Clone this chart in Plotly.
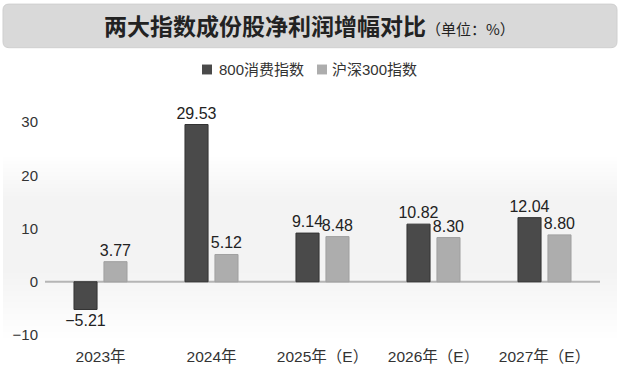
import plotly.graph_objects as go

categories = ["2023年", "2024年", "2025年（E）", "2026年（E）", "2027年（E）"]
series_names = ["800消费指数", "沪深300指数"]
consumer800 = [-5.21, 29.53, 9.14, 10.82, 12.04]
hs300 = [3.77, 5.12, 8.48, 8.30, 8.80]
ytick_vals = [-10, 0, 10, 20, 30]

W, H = 620, 377
ML, MR, MT, MB = 45, 20, 122, 40
PW, PH = W - ML - MR, H - MT - MB

def px_x(x):
    return (x - ML) / PW

def px_y(y):
    return (H - MB - y) / PH

FONT = "Liberation Sans, Arial, Noto Sans CJK SC, sans-serif"
DARK, LIGHT = "#4a4a4a", "#adadad"

def fmt(v):
    return f"{v:.2f}".replace("-", "−")

fig = go.Figure()
fig.add_trace(go.Bar(
    x=categories, y=consumer800, name=series_names[0],
    marker=dict(color=DARK, line=dict(color="#333333", width=1)),
    text=[fmt(v) for v in consumer800], textposition="outside", constraintext="none",
    textfont=dict(size=16, color="#222222"), cliponaxis=False,
))
fig.add_trace(go.Bar(
    x=categories, y=hs300, name=series_names[1],
    marker=dict(color=LIGHT, line=dict(color="#a0a0a0", width=1)),
    text=[fmt(v) for v in hs300], textposition="outside", constraintext="none",
    textfont=dict(size=16, color="#222222"), cliponaxis=False,
))

# rounded banner
x0, x1, y0, y1, r = 3, 617, 3, 47, 6
def P(x, y):
    return f"{px_x(x)},{px_y(y)}"
path = (f"M {P(x0 + r, y0)} L {P(x1 - r, y0)} Q {P(x1, y0)} {P(x1, y0 + r)} "
        f"L {P(x1, y1 - r)} Q {P(x1, y1)} {P(x1 - r, y1)} L {P(x0 + r, y1)} "
        f"Q {P(x0, y1)} {P(x0, y1 - r)} L {P(x0, y0 + r)} Q {P(x0, y0)} {P(x0 + r, y0)} Z")
shapes = [dict(type="path", xref="paper", yref="paper", path=path,
               fillcolor="#d9d9d9", line=dict(color="#cfcfcf", width=1), layer="below")]

# subtle gradient background band (stacked translucent rects)
for i in range(12):
    ya = 157 + i * 4
    shapes.append(dict(type="rect", xref="paper", yref="paper",
                       x0=px_x(3), x1=px_x(617), y0=px_y(340 - i * 6), y1=px_y(ya),
                       fillcolor="#ececec", opacity=0.07, line=dict(width=0), layer="below"))

# zero line
shapes.append(dict(type="line", xref="paper", yref="y", x0=0, x1=1, y0=0, y1=0,
                   line=dict(color="#b5b5b5", width=2), layer="below"))

annotations = [dict(
    xref="paper", yref="paper", x=px_x(309), y=px_y(24), xanchor="center", yanchor="middle",
    text="<b>两大指数成份股净利润增幅对比</b><span style='font-size:15px'>（单位：%）</span>",
    showarrow=False, font=dict(size=23, color="#222222", family="Noto Sans CJK SC, sans-serif"),
)]

# custom legend
for name, color, sx, tx in [(series_names[0], DARK, 202, 217), (series_names[1], LIGHT, 317, 330)]:
    shapes.append(dict(type="rect", xref="paper", yref="paper",
                       x0=px_x(sx), x1=px_x(sx + 10), y0=px_y(74), y1=px_y(64),
                       fillcolor=color, line=dict(width=0)))
    annotations.append(dict(xref="paper", yref="paper", x=px_x(tx), y=px_y(69),
                             xanchor="left", yanchor="middle", text=name, showarrow=False,
                             font=dict(size=15, color="#333333")))

fig.update_layout(
    width=W, height=H,
    margin=dict(l=ML, r=MR, t=MT, b=MB),
    paper_bgcolor="white", plot_bgcolor="rgba(0,0,0,0)",
    font=dict(family=FONT, color="#333333", size=15),
    barmode="group", bargap=0.46, bargroupgap=0.23,
    showlegend=False,
    shapes=shapes,
    annotations=annotations,
    xaxis=dict(showgrid=False, showline=False, zeroline=False, ticks="",
               tickfont=dict(size=15.5, color="#333333"), ticklabelstandoff=10),
    yaxis=dict(range=[-10, 30], tickvals=ytick_vals, showgrid=False, showline=False,
               zeroline=False, ticks="", tickfont=dict(size=15, color="#333333"),
               ticklabelstandoff=6),
)

fig.write_html("out.html", config={"displayModeBar": False},
               post_script="document.body.style.margin='0';document.body.style.overflow='hidden';")
